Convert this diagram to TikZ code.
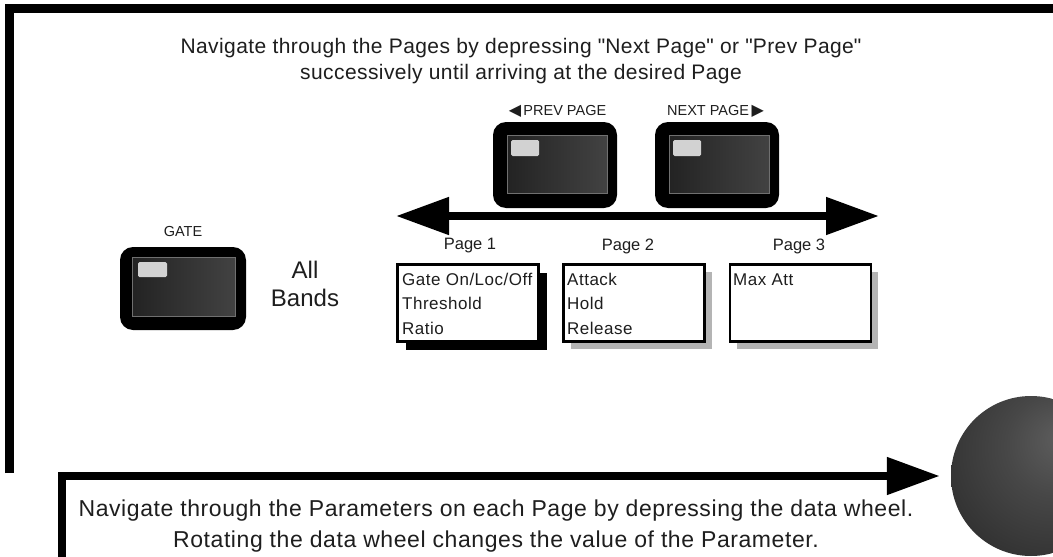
\documentclass[tikz,border=0pt]{standalone}
\usepackage{fontspec}
\setmainfont{Liberation Sans}
\newfontfamily\symfont{DejaVu Sans}
\usetikzlibrary{arrows.meta,shadows,calc}

\definecolor{ink}{HTML}{1E1E1E}
\definecolor{capdark}{HTML}{232323}
\definecolor{caplight}{HTML}{424242}
\definecolor{capedge}{HTML}{707070}
\definecolor{ledgray}{HTML}{D2D2D2}
\definecolor{shadowgray}{HTML}{B4B4B4}
\definecolor{wA}{HTML}{5E5E5E}
\definecolor{wB}{HTML}{474747}
\definecolor{wC}{HTML}{2C2C2C}
\definecolor{wD}{HTML}{1B1B1B}

% data wheel: light spot up and to the right of centre
\pgfdeclareradialshading{wheelshade}{\pgfpoint{10bp}{12bp}}{%
  color(0bp)=(wA); color(16bp)=(wB); color(40bp)=(wC); color(60bp)=(wD); color(80bp)=(wD)}

\tikzset{
  txt/.style={inner sep=0pt, text=ink},
  capouter/.style={fill=black, draw=none, rounded corners=13pt, inner sep=0pt},
  capinner/.style={left color=capdark, right color=caplight, draw=capedge, line width=0.6pt, inner sep=0pt},
  led/.style={fill=ledgray, draw=none, rounded corners=1.5pt, inner sep=0pt},
  pagebox/.style={draw=black, line width=2.6pt, fill=white, minimum width=141pt, minimum height=77pt, inner sep=0pt},
  activeshadow/.style={general shadow={fill=black, shadow xshift=8pt, shadow yshift=-8pt}},
  plainshadow/.style={general shadow={fill=shadowgray, shadow xshift=7pt, shadow yshift=-7pt}},
  boxtext/.style={txt, anchor=base west, font=\fontsize{17}{20}\selectfont\addfontfeatures{LetterSpace=3}},
  pagelabel/.style={txt, font=\fontsize{16.5}{20}\selectfont},
  keylabel/.style={txt, font=\fontsize{14.5}{17}\selectfont},
  bigarrow/.style={line width=8pt, draw=black, line join=miter},
  fathead/.tip={Triangle[length=53pt, width=36pt]},
}
\newcommand{\keytri}[1]{{\symfont\fontsize{16}{17}\selectfont #1}}

\begin{document}
\begin{tikzpicture}[x=1pt, y=-1pt]
\clip (0,0) rectangle (1053,557);
\fill[white] (0,0) rectangle (1053,557);

% outer frame (top and left edges)
\coordinate (frameBL) at (9.5,473);
\coordinate (frameTR) at (1060,8.5);
\draw[line width=9pt, line join=miter] (frameBL) |- (frameTR);

% heading
\node[txt, align=center, font=\fontsize{21}{26}\selectfont\addfontfeatures{LetterSpace=2}] (topnote) at (521,61)
  {Navigate through the Pages by depressing \textquotedbl Next Page\textquotedbl\ or \textquotedbl Prev Page\textquotedbl\\successively until arriving at the desired Page};

% GATE key
\node[keylabel] (gatelbl) at (183,232) {GATE};
\node[capouter, minimum width=126pt, minimum height=83pt] (gatekey) at (183,288.5) {};
\node[capinner, minimum width=103pt, minimum height=59pt] (gatecap) at (183.5,286.5) {};
\node[led, minimum width=29pt, minimum height=15pt] (gateled) at (152.5,269.5) {};

% PREV PAGE key
\node[keylabel] (prevlbl) at (557.5,111) {\keytri{◀}\,PREV PAGE};
\node[capouter, minimum width=124pt, minimum height=86pt] (prevkey) at (555,165) {};
\node[capinner, minimum width=100pt, minimum height=58pt] (prevcap) at (557,164) {};
\node[led, minimum width=28pt, minimum height=16pt] (prevled) at (525,148) {};

% NEXT PAGE key
\node[keylabel] (nextlbl) at (715.5,111) {NEXT PAGE\,\keytri{▶}};
\node[capouter, minimum width=124pt, minimum height=86pt] (nextkey) at (717,165) {};
\node[capinner, minimum width=100pt, minimum height=58pt] (nextcap) at (719,164) {};
\node[led, minimum width=28pt, minimum height=16pt] (nextled) at (687,148) {};

% page navigation arrow
\coordinate (navL) at (396,216);
\coordinate (navR) at (879,216);
\draw[bigarrow, fathead-fathead] (navL) -- (navR);

% All Bands
\node[txt, align=center, font=\fontsize{24}{27.5}\selectfont] (allbands) at (305,284) {All\\Bands};

% pages
\node[pagelabel] (pg1lbl) at (470,246) {Page 1};
\node[pagelabel] (pg2lbl) at (628,246) {Page 2};
\node[pagelabel] (pg3lbl) at (799,246) {Page 3};

\node[pagebox, activeshadow] (pg1) at (468,303) {};
\node[pagebox, plainshadow] (pg2) at (634,303) {};
\node[pagebox, plainshadow] (pg3) at (800.5,303) {};

\node[boxtext] (p1a) at (402,285) {Gate On/Loc/Off};
\node[boxtext] (p1b) at (402,309.5) {Threshold};
\node[boxtext] (p1c) at (402,334) {Ratio};
\node[boxtext] (p2a) at (567,285) {Attack};
\node[boxtext] (p2b) at (567,309.5) {Hold};
\node[boxtext] (p2c) at (567,334) {Release};
\node[boxtext] (p3a) at (733,285) {Max Att};

% data wheel and the bracket pointing to it
\node[circle, minimum size=160pt, inner sep=0pt, draw=none, shading=wheelshade] (wheel) at (1031,476) {};
\coordinate (brk) at (62,565);
\draw[bigarrow, -fathead, shorten >=11pt] (brk) |- (wheel);

\node[txt, align=center, font=\fontsize{23}{30.5}\selectfont\addfontfeatures{LetterSpace=2.5}] (wheelnote) at (496,526)
  {Navigate through the Parameters on each Page by depressing the data wheel.\\Rotating the data wheel changes the value of the Parameter.};
\end{tikzpicture}
\end{document}
